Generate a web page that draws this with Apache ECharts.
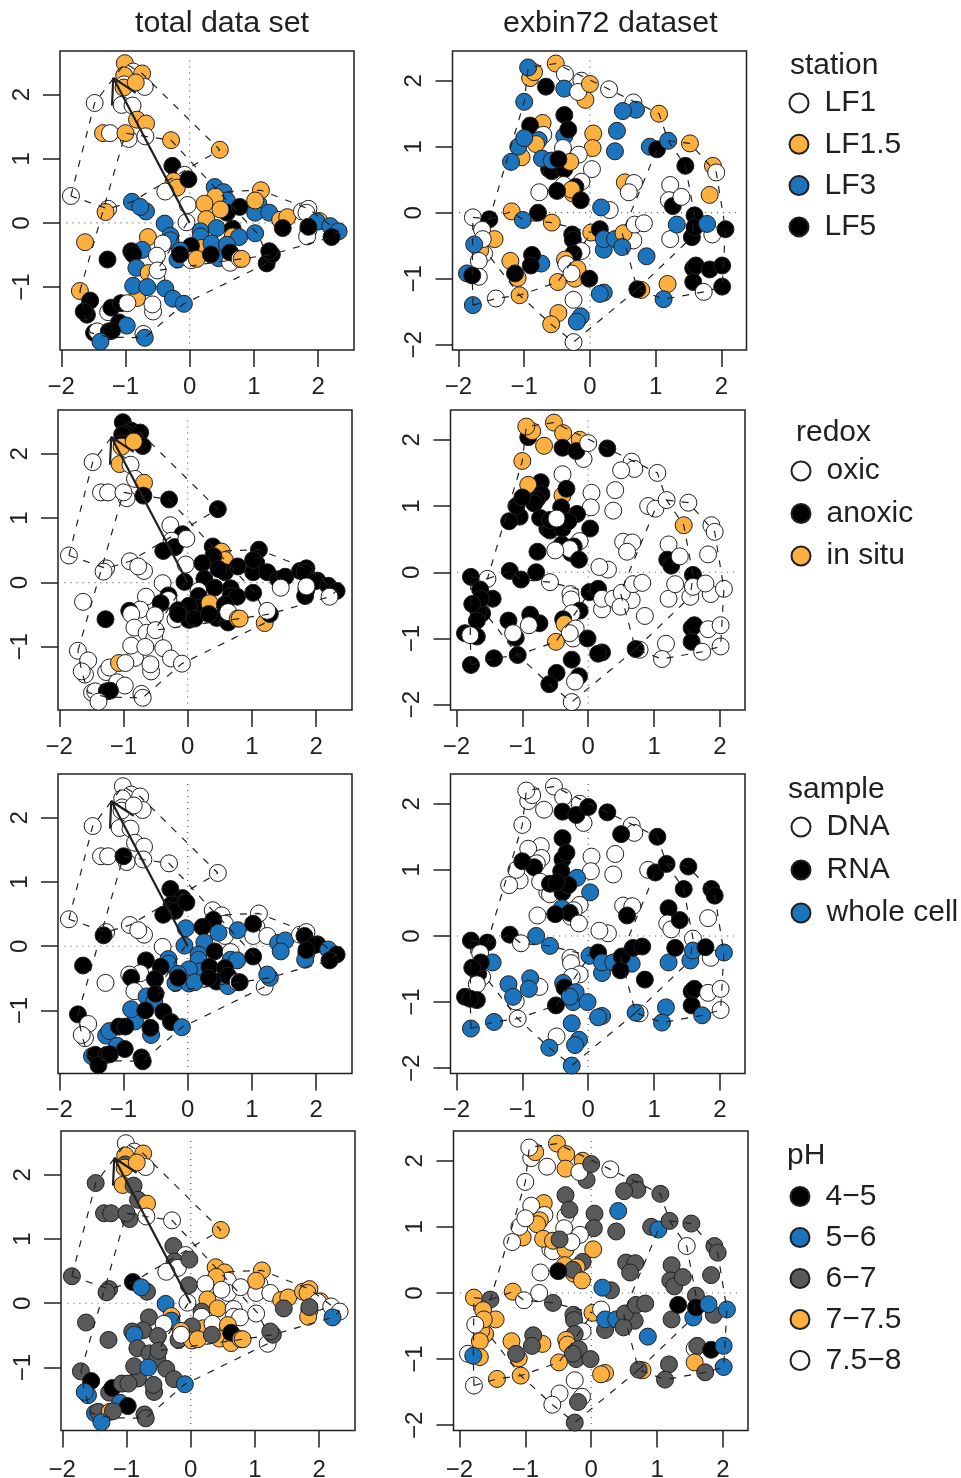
<!DOCTYPE html>
<html>
<head>
<meta charset="utf-8">
<script src="https://cdn.jsdelivr.net/npm/echarts@6/dist/echarts.min.js"></script>
<style>
  html, body { margin: 0; padding: 0; background: #fff; }
  #main { width: 961px; height: 1478px; }
</style>
</head>
<body>
<div id="main"></div>
<script>
// group labels
var stationNames = ['LF1', 'LF1.5', 'LF3', 'LF5'];
var redoxNames = ['oxic', 'anoxic', 'in situ'];
var sampleNames = ['DNA', 'RNA', 'whole cell'];
var phNames = ['4−5', '5−6', '6−7', '7−7.5', '7.5−8'];

// tick labels
var xTicks = [-2, -1, 0, 1, 2];
var totalYTicks = [-1, 0, 1, 2];
var exbinYTicks = [-2, -1, 0, 1, 2];

// total data set, ordination scores + group index of every sample
var totalX = [
  -1.01,-0.88,-0.74,-1.02,-1.02,-1.03,-0.70,-0.84,-1.48,-1.06,
  -0.89,-0.82,-0.68,-1.35,-1.24,-0.95,-1.00,-0.69,-0.29,0.47,
  -0.27,-0.08,-0.25,-0.20,-0.38,-0.02,-0.90,-0.68,-0.77,-1.85,
  -1.27,-1.31,-0.03,-0.05,0.39,0.53,0.58,0.40,0.23,0.58,
  0.48,0.78,1.07,1.02,1.24,1.11,1.02,1.41,1.52,1.75,
  1.85,1.82,2.02,1.98,1.85,1.83,1.85,1.45,2.19,2.32,
  2.21,-0.39,-0.65,-0.30,-0.30,-0.42,0.26,0.17,0.17,0.42,
  0.67,0.67,0.77,1.02,0.19,0.34,0.58,0.02,-0.15,-0.19,
  0.02,0.11,-0.15,0.45,0.63,0.33,0.63,0.78,0.81,1.20,
  1.28,1.24,-0.74,-0.91,-0.88,-1.28,-0.51,-0.83,-0.64,-0.52,
  -0.50,-1.63,-1.71,-0.82,-0.88,-0.66,-0.38,-0.26,-0.09,-0.57,
  -0.58,-1.55,-1.60,-1.65,-1.27,-1.22,-1.07,-0.97,-1.10,-0.98,
  -1.49,-1.44,-1.26,-1.21,-1.39,-0.72,-0.70
];
var totalY = [
  2.49,2.36,2.33,2.30,2.16,2.11,2.12,2.19,1.87,1.84,
  1.83,1.61,1.55,1.40,1.40,1.31,1.40,1.35,1.29,1.14,
  0.89,0.75,0.65,0.55,0.49,0.68,0.33,0.18,0.25,0.42,
  0.22,0.17,0.28,0.01,0.56,0.48,0.35,0.41,0.30,0.16,
  0.21,0.25,0.30,0.16,0.16,0.51,0.35,0.05,0.09,0.18,
  0.22,0.16,0.03,0.02,-0.11,-0.21,-0.06,-0.08,-0.05,-0.13,
  -0.22,-0.01,-0.22,-0.20,-0.27,-0.32,0.06,-0.13,-0.21,-0.08,
  -0.09,-0.21,-0.22,-0.16,-0.39,-0.32,-0.34,-0.36,-0.43,-0.57,
  -0.58,-0.56,-0.49,-0.55,-0.62,-0.49,-0.46,-0.56,-0.56,-0.63,
  -0.49,-0.44,-0.42,-0.44,-0.49,-0.57,-0.51,-0.70,-0.78,-0.86,
  -0.74,-0.30,-1.06,-1.17,-0.98,-1.00,-1.02,-1.18,-1.26,-1.38,
  -1.27,-1.21,-1.43,-1.38,-1.39,-1.32,-1.25,-1.25,-1.55,-1.60,
  -1.71,-1.69,-1.69,-1.68,-1.85,-1.73,-1.79
];
var totalStation = [
  1,0,1,1,0,1,0,1,0,0, 0,1,1,1,0,0,1,0,1,1, 3,0,1,1,0,3,2,2,2,0,
  0,1,0,0,2,2,2,1,1,3, 1,3,2,2,2,1,1,1,1,0, 0,0,1,2,0,0,3,3,2,2,
  3,2,1,2,2,0,1,2,2,2, 3,1,2,2,1,2,2,3,2,2, 0,1,3,2,0,3,3,0,1,3,
  3,3,2,3,3,3,0,2,1,0, 0,1,1,1,2,2,2,2,2,0, 0,3,3,3,0,3,3,0,3,2,
  3,0,3,3,2,0,2
];
var totalRedox = [
  1,1,1,1,1,2,1,2,0,2, 0,0,2,0,0,0,0,1,1,1, 0,1,0,1,1,0,0,0,0,0,
  0,0,0,1,1,2,2,1,1,1, 1,1,1,1,1,1,1,1,1,1, 1,1,1,1,1,1,0,0,1,1,
  0,0,0,1,0,1,1,0,1,1, 1,1,1,1,1,2,1,1,1,0, 1,1,1,1,1,1,0,2,2,2,
  1,0,0,1,0,1,0,0,0,0, 0,0,0,0,0,0,0,0,0,0, 0,0,0,0,0,0,2,0,0,0,
  0,0,1,1,0,0,0
];
var totalSample = [
  0,0,0,0,0,0,0,0,0,0, 0,0,0,0,0,0,1,0,0,0, 1,1,1,1,1,1,0,0,0,0,
  0,1,2,2,0,0,0,1,1,0, 2,2,0,0,0,0,1,2,2,0, 0,1,1,1,2,2,1,2,2,1,
  1,0,1,2,2,1,2,2,2,1, 0,2,2,1,2,1,1,2,2,2, 2,2,1,1,2,1,1,0,1,0,
  2,2,0,0,1,0,1,0,2,2, 1,1,1,2,2,1,1,1,2,2, 1,0,0,0,2,2,1,1,2,1,
  2,1,1,1,1,1,1
];
var totalPh = [
  4,4,3,3,2,3,4,3,2,3, 2,2,3,2,2,2,2,4,4,3, 2,4,2,4,4,2,0,2,1,2,
  2,2,2,4,3,3,4,3,4,4, 4,4,4,4,4,3,3,3,3,3, 3,3,3,4,3,3,2,2,4,4,
  1,1,2,3,1,4,3,2,4,3, 4,4,4,4,3,4,3,2,3,2, 3,3,4,3,3,2,0,3,3,4,
  2,2,2,2,1,2,2,2,2,2, 2,2,2,2,2,1,2,2,1,2, 2,0,1,1,2,0,2,2,1,0,
  1,2,3,2,1,2,2
];

// exbin72 dataset
var exbinX = [
  -0.91,-0.85,-0.94,-0.52,-0.38,-0.67,-0.39,-0.13,-0.07,-0.18,
  0,0.29,-1.0,0.66,0.70,0.50,1.05,-0.72,-0.91,-0.39,
  -0.39,-0.33,0.05,0.41,-0.71,-0.78,-0.82,-1.04,-1.09,-1.0,
  -1.20,0.04,0.38,0.91,1.02,1.19,1.52,-0.41,-0.17,-0.62,
  -0.58,-0.39,-0.30,-0.73,-0.58,-0.48,0.03,1.45,1.87,1.92,
  -0.13,-0.40,-0.22,-0.26,-0.28,-0.50,-0.77,-0.14,0.53,0.67,
  0.59,1.22,1.20,1.26,1.39,1.82,0.30,0.17,-1.19,-1.02,
  -0.79,-1.78,-1.53,-0.58,-1.64,-1.45,-1.61,-1.67,-1.63,-1.69,
  -1.76,-1.21,-0.74,-0.88,-0.90,-1.87,-1.69,-1.79,-1.10,-1.14,
  -0.27,-0.26,-0.13,-0.25,-0.38,-0.36,-0.23,-0.19,-0.28,-0.49,
  -0.01,-1.07,-1.43,-1.78,-0.25,0.21,0.15,-0.48,-0.59,-0.14,
  -0.20,-0.25,0.02,0.15,0.21,0.21,0.38,0.66,0.51,0.49,
  0.86,0.68,0.82,1.22,1.32,1.86,1.59,1.55,1.59,1.78,
  2.06,1.57,1.61,1.82,2.01,1.57,1.18,2.01,1.73,1.12,
  0.78,0.72
];
var exbinY = [
  2.04,2.13,2.20,2.26,2.10,1.91,1.88,2.00,1.71,1.83,
  1.95,1.87,1.68,1.67,1.56,1.54,1.50,1.36,1.32,1.48,
  1.16,1.26,1.20,1.24,1.18,1.10,1.04,0.84,1.0,1.13,
  0.77,0.98,0.93,1.0,0.96,1.09,1.05,0.98,0.88,0.66,
  0.63,0.66,0.77,0.82,0.79,0.81,0.66,0.71,0.71,0.61,
  0.47,0.42,0.39,0.29,0.35,0.33,0.31,0.19,0.46,0.45,
  0.31,0.42,0.19,0.10,0.24,0.27,0.04,0.08,0.02,-0.11,
  0,-0.07,-0.10,-0.15,-0.26,-0.40,-0.62,-0.57,-0.40,-0.73,
  -0.48,-0.73,-0.77,-0.64,-0.80,-0.92,-0.97,-0.95,-0.99,-0.92,
  -0.33,-0.41,-0.58,-0.62,-0.71,-0.78,-1.0,-0.85,-0.92,-1.05,
  -1.0,-1.25,-1.30,-1.40,-1.32,-1.21,-1.23,-1.52,-1.69,-1.57,
  -1.65,-1.96,-0.30,-0.25,-0.56,-0.40,-0.40,-0.42,-0.31,-0.52,
  -0.66,-0.18,-0.16,-0.40,-0.18,-0.33,-0.04,-0.37,-0.22,-0.17,
  -0.25,-0.84,-0.80,-0.86,-0.80,-1.05,-1.08,-1.12,-1.20,-1.31,
  -1.17,-1.16
];
var exbinStation = [
  1,1,2,1,0,3,2,0,1,0, 1,0,2,0,2,2,1,1,3,3, 2,3,1,2,0,2,1,1,2,2,
  2,1,2,2,3,2,1,0,0,3, 3,3,1,2,2,3,0,3,1,0, 0,0,3,1,1,3,0,3,1,0,
  0,0,0,3,0,1,0,2,1,2, 3,0,3,1,0,1,0,1,0,0, 2,1,2,3,3,2,0,3,1,3,
  3,3,0,3,1,0,1,1,0,1, 3,1,0,2,0,2,2,1,1,2, 2,0,1,3,2,2,2,0,1,2,
  2,0,0,0,2,0,3,3,3,2, 3,3,3,3,3,3,1,3,0,2, 1,3
];
var exbinRedox = [
  1,2,2,2,2,2,1,2,0,1, 0,1,2,0,0,0,0,1,2,0, 2,1,0,0,1,1,1,1,1,1,
  1,0,0,0,0,0,0,1,1,1, 1,1,1,1,1,0,1,2,0,0, 0,1,1,1,0,0,1,1,0,0,
  0,0,1,1,0,0,0,0,1,1, 1,1,0,0,1,1,1,1,1,1, 1,1,1,1,0,1,1,0,1,0,
  0,0,1,0,1,2,0,0,0,2, 1,1,1,1,1,1,1,1,1,1, 0,0,1,1,0,0,0,0,0,0,
  0,0,0,0,0,0,1,0,0,0, 0,1,1,0,0,1,0,0,0,0, 0,1
];
var exbinSample = [
  0,0,0,0,0,0,1,0,0,1, 1,1,0,0,0,1,1,0,0,1, 1,1,0,0,0,0,1,0,0,1,
  0,0,0,0,1,1,1,1,2,0, 0,1,1,0,1,1,2,1,1,1, 0,2,0,0,1,1,0,0,0,0,
  1,1,0,0,1,0,0,0,1,0, 2,1,1,2,0,2,0,1,1,0, 1,2,0,2,2,1,1,1,0,2,
  0,0,0,0,2,1,2,2,2,1, 2,0,2,2,2,2,2,0,2,2, 2,2,2,1,2,2,2,2,1,1,
  1,1,1,2,1,0,0,2,2,1, 2,1,1,0,0,1,2,0,2,2, 0,2
];
var exbinPh = [
  4,3,4,3,3,4,3,3,2,4, 2,4,4,2,2,2,2,3,4,2, 4,2,2,1,4,3,3,3,4,4,
  4,2,2,2,1,2,2,4,4,4, 4,3,4,3,3,2,3,4,2,2, 2,3,3,3,2,0,4,3,2,2,
  2,2,2,2,2,2,2,1,3,4, 4,3,2,2,3,3,3,3,3,3, 4,3,3,2,2,4,3,1,3,2,
  2,2,4,2,3,3,2,2,2,3, 2,3,3,4,4,3,3,4,4,4, 2,2,3,4,2,1,1,2,2,2,
  1,2,2,2,0,2,2,1,0,1, 1,4,2,0,1,3,2,1,2,2, 3,2
];

// dashed group outlines, [x, y] in score units
var totalHulls = [
  [[-1.85,0.42],[-1.48,1.87],[-1.01,2.49],[-0.74,2.33],[0.47,1.14],[-0.90,0.33],[-1.27,0.22],[-1.85,0.42]],
  [[-1.71,-1.06],[-1.00,1.40],[-0.69,1.35],[-0.29,1.29],[1.05,-0.16],[1.20,-0.47]],
  [[1.20,-0.63],[-0.09,-1.26],[-0.70,-1.79],[-1.26,-1.78],[-1.55,-1.71],[-1.65,-1.38],[-1.71,-1.06]],
  [[0.58,0.49],[1.11,0.51],[1.85,0.22],[2.32,-0.13],[2.21,-0.22],[1.28,-0.49],[0.81,-0.56],[-0.51,-0.74],[-0.04,0]]
];
var exbinHulls = [
  [[-1.78,-0.07],[-1.53,-0.10],[-1.0,1.68],[-0.94,2.20],[-0.52,2.26],[0.29,1.87],[1.05,1.50],[1.19,1.09],[1.45,0.71],[1.59,-0.04],[1.55,-0.37]],
  [[1.19,1.09],[1.52,1.05],[1.92,0.61],[2.06,-0.25],[2.01,-1.12],[1.73,-1.20],[1.12,-1.31],[0.72,-1.16],[0.49,-0.31],[1.02,0.96]],
  [[0.72,-1.16],[1.55,-0.37]],
  [[0.72,-1.16],[-0.25,-1.96],[-0.59,-1.69],[-1.07,-1.25],[-1.52,-0.67]],
  [[-1.78,-1.40],[-1.43,-1.30],[-1.07,-1.25],[-0.49,-1.05],[0.02,-0.30]],
  [[-1.53,-0.10],[-1.19,0.02],[-1.02,-0.11],[-0.58,-0.15],[0.02,-0.30]],
  [[-1.78,-1.40],[-1.79,-0.95],[-1.78,-0.07]]
];
// fitted vector, only on the total data set
var arrowShaft = [[0,0],[-1.19,2.26]];
var arrowHead = [[-1.21,1.83],[-1.19,2.26],[-0.84,2.03]];

var INK = '#231f20';
var WHITE = '#ffffff', ORANGE = '#fbb040', BLUE = '#1c75bc', BLACK = '#000000', GRAY = '#58595b';

var colorings = [
  {title: 'station', names: stationNames, colors: [WHITE, ORANGE, BLUE, BLACK], total: totalStation, exbin: exbinStation,
    titleLeft: 790, titleTop: 51, legendLeft: 788.5, legendTop: 88, gap: 11.3},
  {title: 'redox', names: redoxNames, colors: [WHITE, BLACK, ORANGE], total: totalRedox, exbin: exbinRedox,
    titleLeft: 796, titleTop: 418, legendLeft: 790.5, legendTop: 456, gap: 12.5},
  {title: 'sample', names: sampleNames, colors: [WHITE, BLACK, BLUE], total: totalSample, exbin: exbinSample,
    titleLeft: 788, titleTop: 775, legendLeft: 790.5, legendTop: 812, gap: 13},
  {title: 'pH', names: phNames, colors: [BLACK, BLUE, GRAY, ORANGE, WHITE], total: totalPh, exbin: exbinPh,
    titleLeft: 787, titleTop: 1141, legendLeft: 789.5, legendTop: 1181.5, gap: 11}
];

// plot boxes in page pixels: left column, right column
var boxes = [
  {l: [60, 354], r: [452.5, 746.5], y: [51, 350], labelGap: 25},
  {l: [58, 352], r: [450.5, 745], y: [410, 710], labelGap: 25},
  {l: [58, 352], r: [450.5, 745], y: [774, 1073.5], labelGap: 25},
  {l: [61, 355], r: [453.5, 748], y: [1131, 1430.5], labelGap: 28}
];
var totalRange = {x: [-2.02, 2.56], y: [-1.98, 2.68]};
var exbinRange = {x: [-2.09, 2.38], y: [-2.08, 2.45]};

var grids = [], xAxes = [], yAxes = [], series = [], titles = [], legends = [];

function minusLabel(v) {
  return String(v).replace('-', '−');
}

function addPanel(box, hPos, range, yTicks, xs, ys, groups, colors, hulls, withArrow) {
  var idx = grids.length;
  grids.push({
    left: hPos[0], width: hPos[1] - hPos[0], top: box.y[0], height: box.y[1] - box.y[0],
    outerBoundsMode: 'none',  // labels of the last row sit close to the page edge, do not shrink the box
    show: true, borderColor: INK, borderWidth: 1.5, backgroundColor: '#fff'
  });
  var tickStyle = {show: true, length: 17, lineStyle: {color: INK, width: 1.5}};
  xAxes.push({
    type: 'value', gridIndex: idx, position: 'bottom', min: range.x[0], max: range.x[1], splitLine: {show: false},
    axisLine: {show: false, onZero: false},
    axisTick: Object.assign({customValues: xTicks}, tickStyle),
    axisLabel: {customValues: xTicks, margin: box.labelGap, fontSize: 24, color: INK, fontFamily: 'Liberation Sans', formatter: minusLabel}
  });
  yAxes.push({
    type: 'value', gridIndex: idx, position: 'left', min: range.y[0], max: range.y[1], splitLine: {show: false},
    axisLine: {show: false, onZero: false},
    axisTick: Object.assign({customValues: yTicks}, tickStyle),
    axisLabel: {customValues: yTicks, margin: 26, fontSize: 24, rotate: 90, color: INK, fontFamily: 'Liberation Sans', formatter: minusLabel}
  });

  // dotted zero lines
  var zeroLines = [
    [[range.x[0] + 0.1, 0], [range.x[1] - 0.1, 0]],
    [[0, range.y[0] + 0.1], [0, range.y[1] - 0.1]]
  ];
  zeroLines.forEach(function (seg) {
    series.push({
      type: 'line', xAxisIndex: idx, yAxisIndex: idx, data: seg, showSymbol: false, silent: true, z: 1,
      lineStyle: {color: GRAY, width: 1.2, type: [1, 5]}
    });
  });

  // samples, one series so the drawing order stays the sample order
  series.push({
    type: 'scatter', xAxisIndex: idx, yAxisIndex: idx, symbolSize: 17, z: 2, silent: true,
    data: xs.map(function (x, i) {
      return {value: [x, ys[i]], itemStyle: {color: colors[groups[i]], borderColor: INK, borderWidth: 1, opacity: 1}};
    })
  });

  hulls.forEach(function (h) {
    series.push({
      type: 'line', xAxisIndex: idx, yAxisIndex: idx, data: h, showSymbol: false, silent: true, z: 3,
      lineStyle: {color: INK, width: 1.2, type: [7, 8]}
    });
  });

  if (withArrow) {
    [arrowShaft, arrowHead].forEach(function (seg) {
      series.push({
        type: 'line', xAxisIndex: idx, yAxisIndex: idx, data: seg, showSymbol: false, silent: true, z: 4,
        lineStyle: {color: INK, width: 2.2}
      });
    });
  }
}

colorings.forEach(function (c, row) {
  var box = boxes[row];
  addPanel(box, box.l, totalRange, totalYTicks, totalX, totalY, c.total, c.colors, totalHulls, true);
  addPanel(box, box.r, exbinRange, exbinYTicks, exbinX, exbinY, c.exbin, c.colors, exbinHulls, false);

  titles.push({
    text: c.title, left: c.titleLeft, top: c.titleTop, padding: 0,
    textStyle: {fontFamily: 'Liberation Sans', fontSize: 30, fontWeight: 'normal', color: INK}
  });
  legends.push({
    left: c.legendLeft, top: c.legendTop, orient: 'vertical', padding: 0, itemGap: c.gap,
    itemWidth: 19, itemHeight: 19, icon: 'circle', selectedMode: false, data: c.names,
    textStyle: {fontFamily: 'Liberation Sans', fontSize: 30, color: INK, padding: [0, 0, 0, 11]}
  });
  // empty series only carry the legend keys
  c.names.forEach(function (name, k) {
    series.push({
      type: 'scatter', name: name, xAxisIndex: 0, yAxisIndex: 0, data: [],
      itemStyle: {color: c.colors[k], borderColor: INK, borderWidth: 1, opacity: 1}
    });
  });
});

titles.push({
  text: 'total data set', left: 135, top: 9, padding: 0,
  textStyle: {fontFamily: 'Liberation Sans', fontSize: 30.4, fontWeight: 'normal', color: INK}
});
titles.push({
  text: 'exbin72 dataset', left: 503, top: 9, padding: 0,
  textStyle: {fontFamily: 'Liberation Sans', fontSize: 30.4, fontWeight: 'normal', color: INK}
});

var chart = echarts.init(document.getElementById('main'));
chart.setOption({
  animation: false,
  backgroundColor: '#fff',
  title: titles,
  legend: legends,
  grid: grids,
  xAxis: xAxes,
  yAxis: yAxes,
  series: series
});
</script>
</body>
</html>
